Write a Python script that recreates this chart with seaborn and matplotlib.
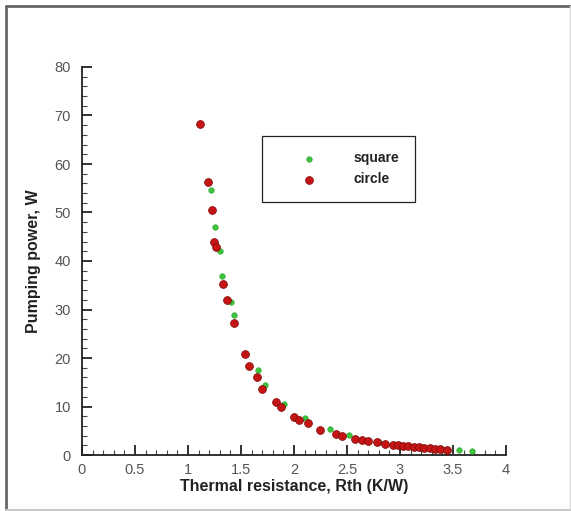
import matplotlib.pyplot as plt
from matplotlib.lines import Line2D
from matplotlib.ticker import MultipleLocator
import seaborn as sns
import pandas as pd

# values
square_rth = [1.22, 1.255, 1.30, 1.32, 1.405, 1.43, 1.55, 1.66, 1.73, 1.905,
              2.10, 2.34, 2.52, 2.80, 3.00, 3.20, 3.40, 3.56, 3.68]
square_pp = [54.6, 47.1, 42.1, 37.0, 31.6, 28.9, 20.8, 17.5, 14.4, 10.5,
             7.6, 5.3, 4.2, 2.6, 2.1, 1.6, 1.3, 1.0, 0.9]

circle_rth = [1.11, 1.19, 1.23, 1.245, 1.265, 1.33, 1.37, 1.43, 1.54, 1.58,
              1.65, 1.70, 1.83, 1.875, 2.00, 2.05, 2.13, 2.25, 2.40, 2.45,
              2.58, 2.64, 2.70, 2.78, 2.86, 2.93, 2.98, 3.03, 3.08, 3.13,
              3.18, 3.23, 3.28, 3.33, 3.38, 3.44]
circle_pp = [68.2, 56.3, 50.5, 44.0, 42.9, 35.3, 32.0, 27.2, 20.8, 18.4,
             16.1, 13.7, 11.0, 9.8, 7.8, 7.2, 6.5, 5.2, 4.3, 3.9,
             3.3, 3.0, 2.8, 2.6, 2.3, 2.1, 2.0, 1.9, 1.8, 1.7,
             1.6, 1.5, 1.4, 1.3, 1.2, 1.1]

x_ticks = [0, 0.5, 1, 1.5, 2, 2.5, 3, 3.5, 4]
y_ticks = [0, 10, 20, 30, 40, 50, 60, 70, 80]

sq = pd.DataFrame({'rth': square_rth, 'pp': square_pp})
ci = pd.DataFrame({'rth': circle_rth, 'pp': circle_pp})

sns.set_style("white")
plt.rcParams['font.family'] = ['Liberation Sans', 'DejaVu Sans']

fig = plt.figure(figsize=(5.71, 5.11), dpi=100)
ax = fig.add_axes([82 / 571, 1 - 455 / 511, 424 / 571, 388 / 511])

# frame round the picture: dark left/top, faint right/bottom
W, H = 571, 511
frame = [((6, 6), (6, 510), '#666666', 2.0),
         ((6, 570), (6, 6), '#666666', 2.0),
         ((570, 570), (6, 510), '#d8d8d8', 1.0),
         ((6, 570), (510, 510), '#c8c8c8', 1.5)]
for xs, ys, col, lw in frame:
    fig.add_artist(Line2D([x / W for x in xs], [1 - y / H for y in ys],
                          transform=fig.transFigure, color=col, linewidth=lw))

sns.scatterplot(data=sq, x='rth', y='pp', ax=ax, color='#3cc43c', s=16,
                edgecolor='#2e9e2e', linewidth=0.4, label='square', zorder=3)
sns.scatterplot(data=ci, x='rth', y='pp', ax=ax, color='#c41414', s=32,
                edgecolor='#7a0808', linewidth=0.5, label='circle', zorder=4)

ax.set_xlim(0, 4)
ax.set_ylim(0, 80)
ax.set_xticks(x_ticks)
ax.set_xticklabels(['0', '0.5', '1', '1.5', '2', '2.5', '3', '3.5', '4'])
ax.set_yticks(y_ticks)
ax.xaxis.set_minor_locator(MultipleLocator(0.1))
ax.yaxis.set_minor_locator(MultipleLocator(2))

ax.spines['top'].set_visible(False)
ax.spines['right'].set_visible(False)
for side in ['left', 'bottom']:
    ax.spines[side].set_color('#222222')
    ax.spines[side].set_linewidth(1.3)

ax.tick_params(which='both', bottom=True, left=True, top=False, right=False)
ax.tick_params(which='major', direction='in', length=7, width=1.3,
               color='#222222', labelsize=10.5, labelcolor='#555555', pad=6)
ax.tick_params(which='minor', direction='in', length=3.5, width=0.8,
               color='#444444')
ax.tick_params(axis='y', which='major', pad=8)

ax.set_xlabel('Thermal resistance, Rth (K/W)', fontsize=11.5,
              fontweight='bold', color='#222222', labelpad=1)
ax.set_ylabel('Pumping power, W', fontsize=11.5, fontweight='bold',
              color='#222222', labelpad=10)

leg = ax.legend(loc='upper left', bbox_to_anchor=(180 / 424, 1 - 69 / 388),
                frameon=True, fancybox=False, framealpha=1,
                edgecolor='#222222',
                prop={'weight': 'bold', 'size': 10},
                borderpad=1.1, handlelength=4.6, handletextpad=0.9,
                labelspacing=0.5, borderaxespad=0)
leg.get_frame().set_linewidth(0.9)
for t in leg.get_texts():
    t.set_color('#222222')

fig.savefig('out.png', dpi=100)
